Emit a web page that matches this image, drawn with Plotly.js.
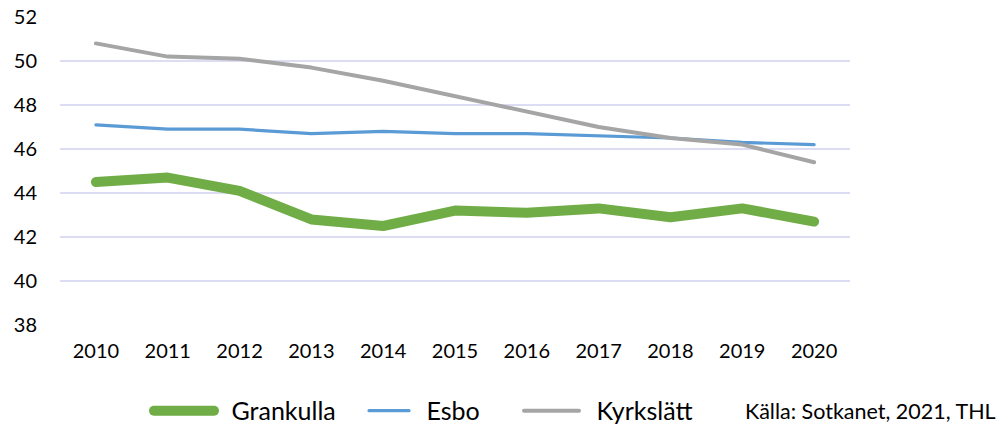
<!DOCTYPE html>
<html>
<head>
<meta charset="utf-8">
<script src="https://cdn.plot.ly/plotly-3.0.1.min.js"></script>
<style>
html,body{margin:0;padding:0;background:#fff;}
#chart{width:998px;height:426px;}
#chart path.js-line{stroke-linecap:round;stroke-linejoin:round;}
</style>
</head>
<body>
<div id="chart"></div>
<script>
const years = ['2010','2011','2012','2013','2014','2015','2016','2017','2018','2019','2020'];
const grankulla = [44.5, 44.7, 44.1, 42.8, 42.5, 43.2, 43.1, 43.3, 42.9, 43.3, 42.7];
const esbo = [47.1, 46.9, 46.9, 46.7, 46.8, 46.7, 46.7, 46.6, 46.5, 46.3, 46.2];
const kyrkslatt = [50.8, 50.2, 50.1, 49.7, 49.1, 48.4, 47.7, 47.0, 46.5, 46.2, 45.4];
const seriesNames = ['Grankulla', 'Esbo', 'Kyrkslätt'];
const yTicks = [38, 40, 42, 44, 46, 48, 50, 52];
const sourceText = 'Källa: Sotkanet, 2021, THL';

const FONT = 'Lato, Calibri, Carlito, sans-serif';
const PLOT_L = 60, PLOT_W = 790;
const px = v => (v - PLOT_L) / PLOT_W;
const LEG_Y = -0.279;
const GAP = '\u2002';

const traces = [
  {x: years, y: grankulla, name: GAP + seriesNames[0], type: 'scatter', mode: 'lines', legend: 'legend',
   line: {color: '#70AD47', width: 10}},
  {x: years, y: esbo, name: GAP + seriesNames[1], type: 'scatter', mode: 'lines', legend: 'legend2',
   line: {color: '#5B9BD5', width: 3.2}},
  {x: years, y: kyrkslatt, name: GAP + seriesNames[2], type: 'scatter', mode: 'lines', legend: 'legend3',
   line: {color: '#A5A5A5', width: 4}}
];

function leg(xpx, iw) {
  return {orientation: 'h', x: px(xpx), xanchor: 'left', y: LEG_Y, yanchor: 'middle',
          font: {family: FONT, size: 25, color: '#000'}, itemwidth: iw,
          bgcolor: 'rgba(0,0,0,0)', borderwidth: 0};
}

const layout = {
  width: 998, height: 426,
  margin: {l: 60, r: 148, t: 17, b: 101, autoexpand: false},
  paper_bgcolor: '#ffffff', plot_bgcolor: '#ffffff',
  font: {family: FONT, size: 20, color: '#000000'},
  showlegend: true,
  legend: leg(149, 60),
  legend2: leg(364, 40),
  legend3: leg(519, 55),
  xaxis: {type: 'category', range: [-0.5, 10.5], showgrid: false, zeroline: false,
          showline: false, ticks: '', ticklabelstandoff: 12,
          tickfont: {family: FONT, size: 20, color: '#000'}},
  yaxis: {range: [38, 52], tickvals: yTicks, ticktext: yTicks.map(String),
          showgrid: true, gridcolor: '#DCDCF2', gridwidth: 1.3, zeroline: false,
          showline: false, ticks: '', ticklabelstandoff: 22,
          tickfont: {family: FONT, size: 20, color: '#000'}},
  annotations: [
    {text: sourceText, xref: 'paper', yref: 'paper', x: px(745), y: LEG_Y,
     xanchor: 'left', yanchor: 'middle', showarrow: false, xshift: -2,
     font: {family: FONT, size: 21.5, color: '#000'}}
  ]
};

Plotly.newPlot('chart', traces, layout, {displayModeBar: false, staticPlot: true});
</script>
</body>
</html>
